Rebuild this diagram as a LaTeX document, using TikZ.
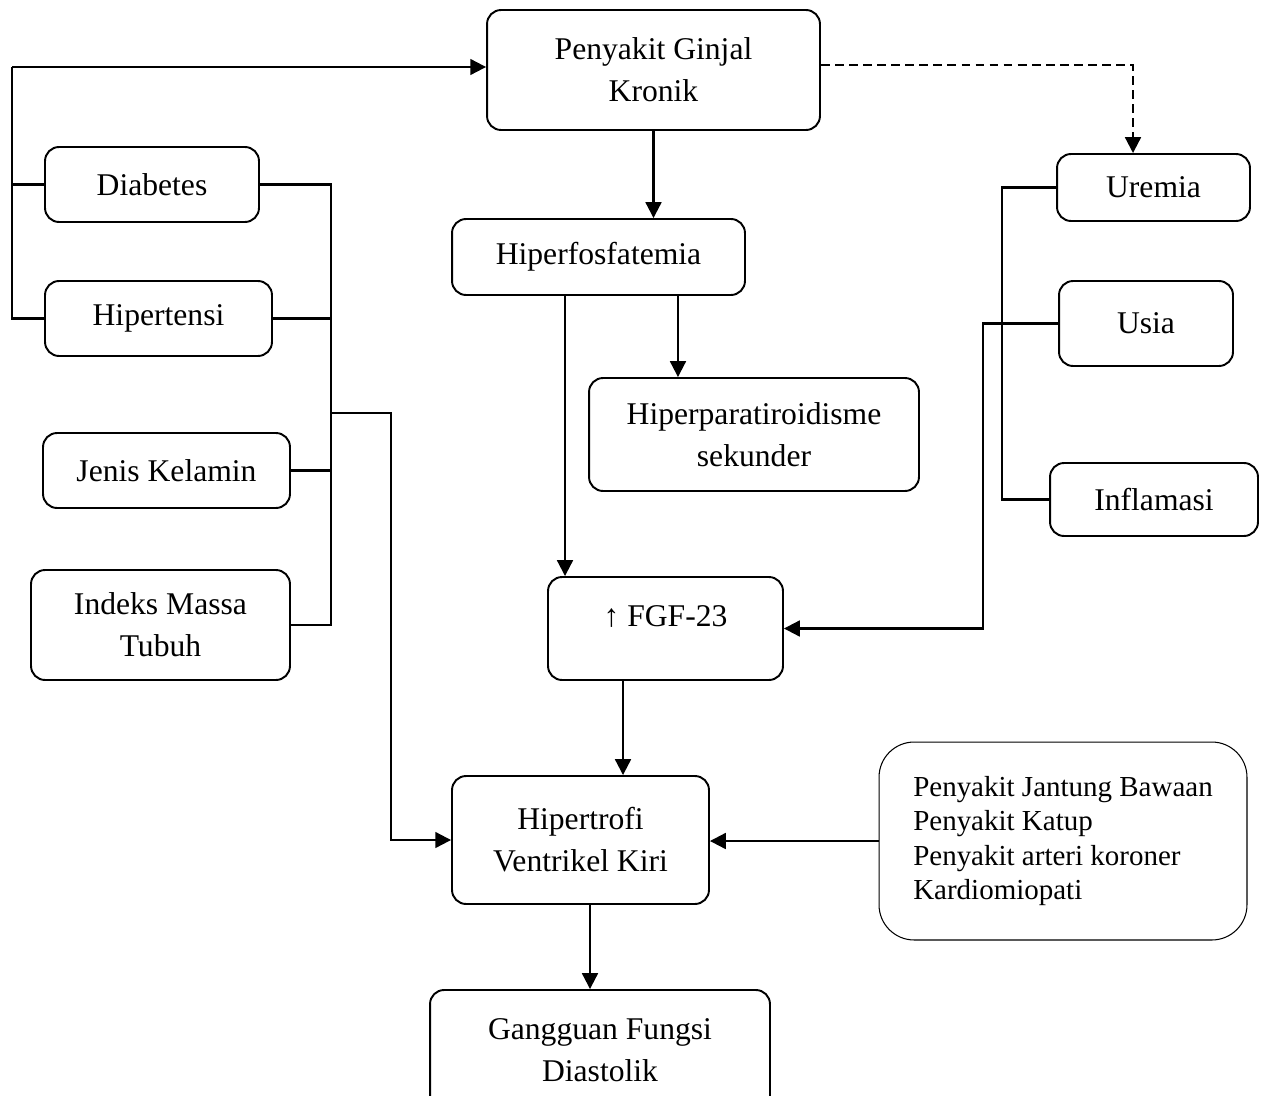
\documentclass[tikz,border=0pt]{standalone}
\usepackage{fontspec}
\setmainfont{Liberation Serif}
\usetikzlibrary{arrows.meta}
\tikzset{
  box/.style={draw,line width=1.1pt,rounded corners=8pt,align=center,inner sep=0pt},
  arr/.style={line width=1.2pt,-{Triangle[length=9pt,width=9pt]}},
  link/.style={line width=1.2pt},
}
\begin{document}
\begin{tikzpicture}[x=0.02cm,y=-0.02cm,every node/.style={font=\fontsize{18}{24}\selectfont}]
\clip (0,0) rectangle (1267,1095);
\node[box,minimum width=6.66cm,minimum height=2.4cm] (pgk) at (653.5,70) {Penyakit Ginjal\\Kronik};
\node[box,minimum width=4.28cm,minimum height=1.5cm] (diab) at (152,184.5) {Diabetes};
\node[box,minimum width=4.54cm,minimum height=1.5cm] (hiper) at (158.5,318.5) {Hipertensi};
\node[box,minimum width=4.94cm,minimum height=1.5cm] (jk) at (166.5,470.5) {Jenis Kelamin};
\node[box,minimum width=5.18cm,minimum height=2.2cm] (imt) at (160.5,625) {Indeks Massa\\Tubuh};
\node[box,minimum width=5.86cm,minimum height=1.52cm] (fosf) at (598.5,257) {Hiperfosfatemia};
\node[box,minimum width=6.6cm,minimum height=2.26cm] (hpt) at (754,434.5) {Hiperparatiroidisme\\sekunder};
\node[box,minimum width=4.7cm,minimum height=2.06cm] (fgf) at (665.5,628.5) {↑ FGF-23\\[-10pt]\mbox{}};
\node[box,minimum width=3.86cm,minimum height=1.34cm] (urem) at (1153.5,187.5) {Uremia};
\node[box,minimum width=3.48cm,minimum height=1.7cm] (usia) at (1146,323.5) {Usia};
\node[box,minimum width=4.16cm,minimum height=1.46cm] (infl) at (1154,499.5) {Inflamasi};
\node[box,minimum width=5.14cm,minimum height=2.56cm] (lvh) at (580.5,840) {Hipertrofi\\Ventrikel Kiri};
\node[draw,line width=0.6pt,rounded corners=20pt,align=left,inner sep=0pt,minimum width=7.36cm,minimum height=3.96cm,
  font=\fontsize{16.5}{19.5}\selectfont] (list) at (1063,841)
  {Penyakit Jantung Bawaan\\Penyakit Katup\\Penyakit arteri koroner\\Kardiomiopati};
\node[box,minimum width=6.8cm,minimum height=2.4cm] (gfd) at (600,1050) {Gangguan Fungsi\\Diastolik};
\coordinate (lbus) at (12,67);
\coordinate (rbus) at (331,182);
\coordinate (rbranch) at (391,413);
\coordinate (dcorner) at (1133,65);
\coordinate (ubus) at (1002,181);
\coordinate (ubr) at (983,321);
\draw[arr] (lbus) -- (lbus -| pgk.west);
\draw[link] (lbus) |- (hiper.west);
\draw[link] (lbus |- diab.west) -- (diab.west);
\draw[link] (diab.east) -- (diab.east -| rbus) -- (rbus |- imt.east) -- (imt.east);
\draw[link] (hiper.east) -- (hiper.east -| rbus);
\draw[link] (jk.east) -- (jk.east -| rbus);
\draw[arr] (rbus |- rbranch) -- (rbranch) |- (lvh.west);
\draw[arr] (pgk.south) -- (pgk.south |- fosf.north);
\draw[arr,dash pattern=on 5pt off 3pt] (pgk.east |- dcorner) -- (dcorner) -- (dcorner |- urem.north);
\draw[arr] ([xshift=-0.67cm]fosf.south) -- ([xshift=-0.67cm]fosf.south |- fgf.north);
\draw[arr] ([xshift=1.59cm]fosf.south) -- ([xshift=1.59cm]fosf.south |- hpt.north);
\draw[link] (urem.west) -- (urem.west -| ubus) -- (ubus |- infl.west) -- (infl.west);
\draw[arr] (usia.west) -- (usia.west -| ubr) |- (fgf.east);
\draw[arr] ([xshift=-0.85cm]fgf.south) -- ([xshift=-0.85cm]fgf.south |- lvh.north);
\draw[arr] (list.west) -- (list.west -| lvh.east);
\draw[arr] ([xshift=0.19cm]lvh.south) -- ([xshift=0.19cm]lvh.south |- gfd.north);
\end{tikzpicture}
\end{document}
